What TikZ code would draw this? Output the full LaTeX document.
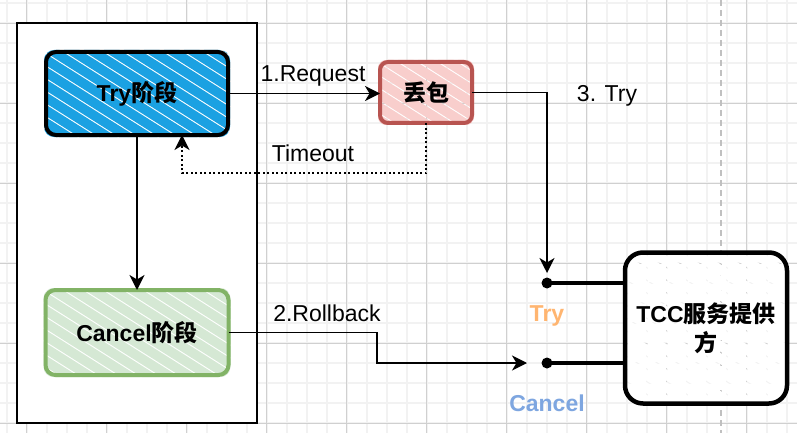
\documentclass[tikz,border=0pt]{standalone}
\usepackage{fontspec}
\setmainfont{Liberation Sans}
\newfontfamily\cjk{Noto Sans CJK SC}
\usetikzlibrary{arrows.meta,calc}
\definecolor{tryblue}{HTML}{1BA1E2}
\definecolor{cgreen}{HTML}{D5E8D4}
\definecolor{cgreenb}{HTML}{82B366}
\definecolor{dpink}{HTML}{F8CECC}
\definecolor{dred}{HTML}{B85450}
\definecolor{gmin}{HTML}{F2F2F2}
\definecolor{gmaj}{HTML}{D0D0D0}
\definecolor{gpage}{HTML}{C0C0C0}
\definecolor{torange}{HTML}{FFB570}
\definecolor{cblue}{HTML}{7EA6E0}
\pgfdeclarelayer{grid}
\pgfdeclarelayer{fills}
\pgfsetlayers{grid,fills,main}
\newcommand\myhatch[3]{%
  \begin{pgfonlayer}{fills}
  \begin{scope}
    \clip[rounded corners=#3] ($(#1.north west)+(-2,-2)$) rectangle ($(#1.south east)+(2,2)$);
    \foreach \s in {-300,-280,...,200}
      \draw[#2, line width=9.5pt] ($(#1.north west)+(\s,-5)$) -- ++(300,190);
  \end{scope}
  \end{pgfonlayer}}
\begin{document}
\begin{tikzpicture}[x=1pt,y=-1pt,
  every node/.style={font=\fontsize{23}{29}\selectfont},
  box/.style={draw, line width=4pt, rounded corners=10pt, inner sep=0pt, outer sep=0pt},
  conn/.style={line width=1.8pt, -{Stealth[length=15pt,width=15pt,inset=4.5pt]}},
  dots/.style={dash pattern=on 2pt off 2.5pt},
  lbl/.style={inner sep=0pt},
  dotnode/.style={circle, fill=black, minimum size=11pt, inner sep=0pt, outer sep=0pt}]
\useasboundingbox (0,0) rectangle (797,433);
\begin{pgfonlayer}{grid}
  \fill[white] (0,0) rectangle (797,433);
  \foreach \x in {6.67,26.67,...,797} \draw[gmin, line width=2pt] (\x,0) -- (\x,433);
  \foreach \y in {3.33,23.33,...,433} \draw[gmin, line width=2pt] (0,\y) -- (797,\y);
  \foreach \x in {26.67,106.67,...,797} \draw[gmaj, line width=1pt] (\x,0) -- (\x,433);
  \foreach \y in {23.33,103.33,...,433} \draw[gmaj, line width=1pt] (0,\y) -- (797,\y);
  \draw[gpage, line width=2pt, dash pattern=on 6pt off 4pt] (721,0) -- (721,433);
\end{pgfonlayer}

% container
\node[draw, line width=1.8pt, minimum width=240, minimum height=400, inner sep=0pt, outer sep=0pt] (cont) at (137,223) {};
\begin{pgfonlayer}{fills}
  \fill[white] (cont.north west) rectangle (cont.south east);
\end{pgfonlayer}

% boxes
\node[box, draw=black, minimum width=182, minimum height=83] (try) at (137,93.5) {\bfseries Try{\cjk 阶段}};
\node[box, draw=cgreenb, minimum width=183, minimum height=85] (cancel) at (137,332.5) {\bfseries Cancel{\cjk 阶段}};
\node[box, draw=dred, rounded corners=8pt, minimum width=92, minimum height=61] (drop) at (426,92.5) {\bfseries\cjk 丢包};
\node[box, draw=black, line width=4.5pt, rounded corners=18pt, minimum width=162, minimum height=151, align=center] (tcc) at (706,328) {\bfseries TCC{\cjk 服务提供}\\{\bfseries\cjk 方}};

\myhatch{try}{tryblue}{10pt}
\myhatch{cancel}{cgreen}{10pt}
\myhatch{drop}{dpink}{8pt}
\myhatch{tcc}{white}{18pt}

% dots
\node[dotnode] (tdot) at (547,283) {};
\node[dotnode] (cdot) at (547,363) {};
\draw[line width=3.5pt] (tdot.center) -- (tdot -| tcc.west);
\draw[line width=3.5pt] (cdot.center) -- (cdot -| tcc.west);

% coordinates
\coordinate (tmid) at (182,173);
\coordinate (rb) at (377,350);

% connectors
\draw[conn] (try) -- (cancel);
\draw[conn] (try.east) -- (try.east -| drop.west);
\draw[conn, dots] (drop.south) |- (tmid) -- (tmid |- try.south);
\draw[conn, shorten >=10pt] (drop.east) -| (tdot.center);
\draw[conn, shorten >=20pt] (cancel.east) -| (rb) |- (cdot.center);

% labels
\node[lbl] (lreq) at (313,76) {1.Request};
\node[lbl] (ltime) at (313,153.5) {Timeout};
\node[lbl] (ltry3) at (607,96) {3. Try};
\node[lbl] (lrb) at (327,313) {2.Rollback};
\node[lbl, text=torange] (ltry) at (547,316) {\bfseries Try};
\node[lbl, text=cblue] (lcancel) at (547,403.5) {\bfseries Cancel};
\end{tikzpicture}
\end{document}
